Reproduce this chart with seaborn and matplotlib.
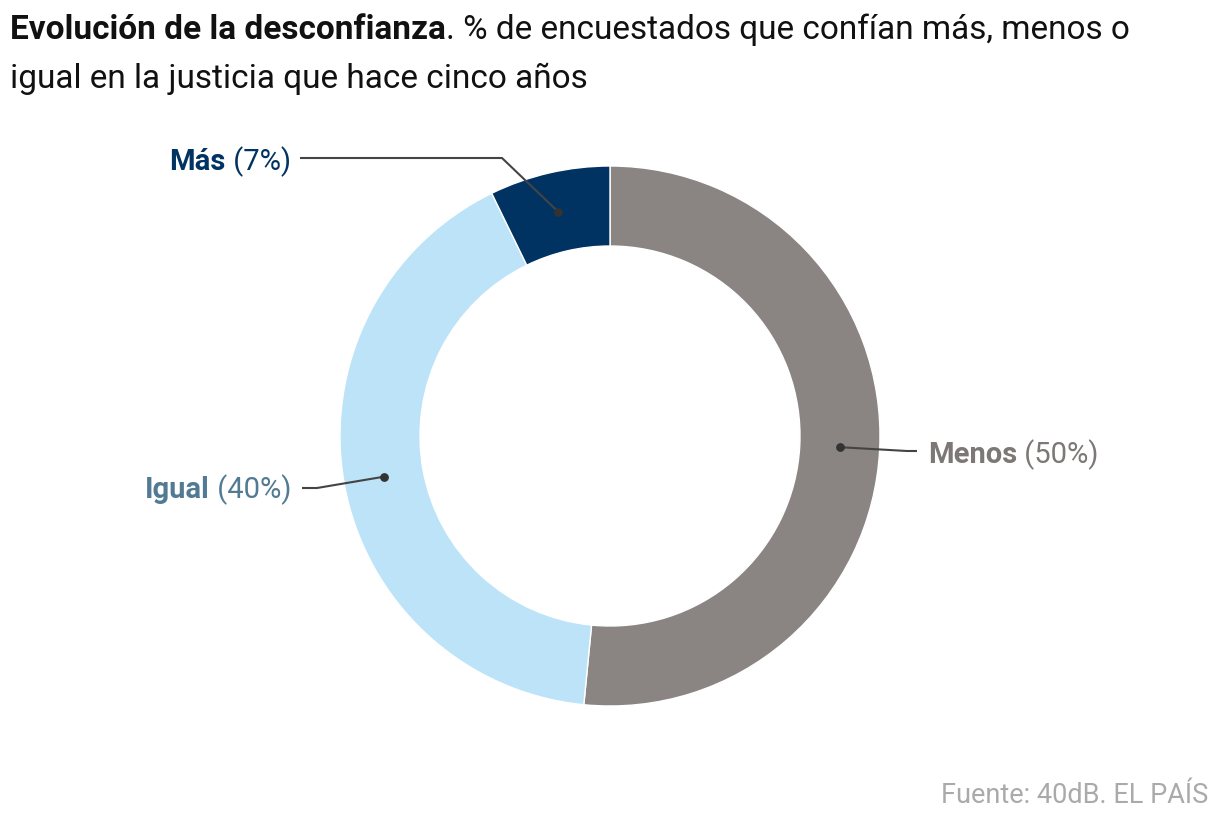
import matplotlib
matplotlib.use("Agg")
import matplotlib.pyplot as plt
import seaborn as sns
import numpy as np

# Data
categories = ["Menos", "Igual", "Más"]
values = [50, 40, 7]
colors = ["#8a8482", "#bce3f8", "#003361"]
label_colors = ["#7d7776", "#527b93", "#003361"]

sns.set_theme(style="white")
plt.rcParams['font.family'] = ['Roboto', 'DejaVu Sans']

W, H = 1220, 820
fig = plt.figure(figsize=(W / 100, H / 100), dpi=100)
ax = fig.add_axes([0, 0, 1, 1])

# donut, center and radii in pixel units (y measured from bottom)
cx, cy = 610, H - 437
r_out, ring = 270, 80
wedges, _ = ax.pie(values, colors=colors, startangle=90, counterclock=False,
                   radius=r_out, center=(cx, cy),
                   wedgeprops=dict(width=ring, edgecolor="white", linewidth=1))
ax.set_xlim(0, W)
ax.set_ylim(0, H)
ax.set_aspect("auto")
ax.axis("off")

renderer = fig.canvas.get_renderer()


def text_width(t):
    return t.get_window_extent(renderer=renderer).width


def rich(x, y, bold, regular, color, ha, size=21):
    kw = dict(color=color, fontsize=size, va="baseline")
    if ha == "left":
        t1 = ax.text(x, y, bold, fontweight="bold", ha="left", **kw)
        ax.text(x + text_width(t1), y, regular, ha="left", **kw)
    else:
        t2 = ax.text(x, y, regular, ha="right", **kw)
        ax.text(x - text_width(t2), y, bold, fontweight="bold", ha="right", **kw)


# annotation layout: elbow x, line end x, text x, text baseline (pixels from top)
layout = {
    "Menos": dict(elbow=907, end=917, tx=928, ty=463, ha="left"),
    "Igual": dict(elbow=317, end=302, tx=291, ty=498, ha="right"),
    "Más": dict(elbow=502, end=300, tx=291, ty=170, ha="right"),
}
elbow_y = {"Menos": 452, "Igual": 489, "Más": 159}

r_mid = r_out - ring / 2
for w, cat, val, lc in zip(wedges, categories, values, label_colors):
    ang = np.deg2rad((w.theta1 + w.theta2) / 2)
    px, py = cx + r_mid * np.cos(ang), cy + r_mid * np.sin(ang)
    L = layout[cat]
    ey = H - elbow_y[cat]
    ax.plot([px, L["elbow"], L["end"]], [py, ey, ey], color="#444444", lw=1.5,
            solid_capstyle="butt")
    ax.scatter([px], [py], s=28, color="#333333", zorder=5)
    rich(L["tx"], H - L["ty"], cat, f" ({val}%)", lc, L["ha"])

# title
t = ax.text(10, H - 39, "Evolución de la desconfianza", fontweight="bold",
            fontsize=24, color="#111111", va="baseline", ha="left")
ax.text(10 + text_width(t), H - 39, ". % de encuestados que confían más, menos o",
        fontsize=24, color="#111111", va="baseline", ha="left")
ax.text(10, H - 88, "igual en la justicia que hace cinco años",
        fontsize=24, color="#111111", va="baseline", ha="left")

# source
ax.text(1208, H - 803, "Fuente: 40dB. EL PAÍS", fontsize=19.5, color="#aaaaaa",
        va="baseline", ha="right")

fig.savefig("out.png", dpi=100)
